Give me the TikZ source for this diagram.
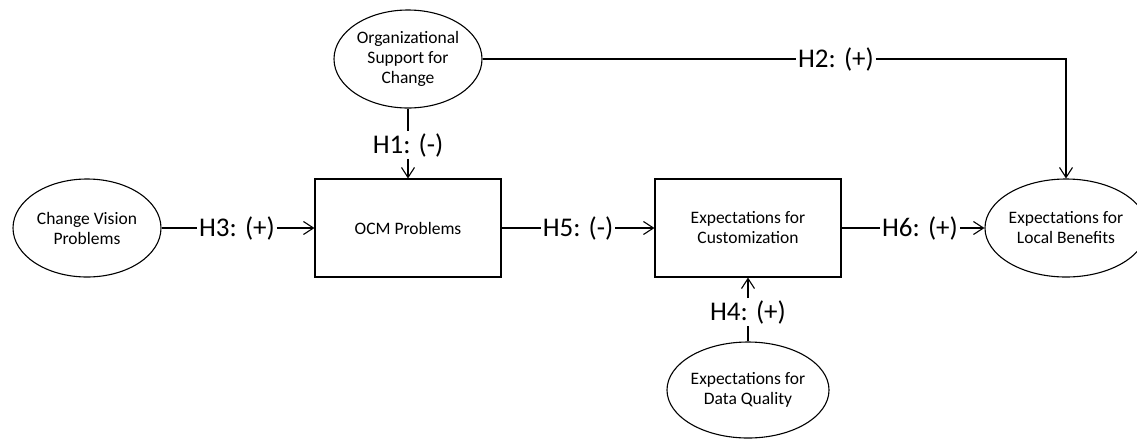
\documentclass[tikz,border=0pt]{standalone}
\usepackage{fontspec}
\setmainfont{Carlito}
\usetikzlibrary{shapes.geometric,arrows.meta}
\begin{document}
\begin{tikzpicture}[x=1pt,y=-1pt,
  line width=1.1pt,
  ell/.style={draw, ellipse, minimum width=148pt, minimum height=98pt, inner sep=0pt, align=center, font=\fontsize{17.5}{20}\selectfont},
  boxn/.style={draw, rectangle, minimum width=186pt, minimum height=98pt, inner sep=0pt, align=center, font=\fontsize{17.5}{20}\selectfont},
  lbl/.style={inner sep=1.5pt, font=\fontsize{27}{30}\selectfont},
  arr/.style={-{Straight Barb[length=10pt,width=13pt]}},
]
\useasboundingbox (0,0) rectangle (1137,440);
\node[ell] (org) at (408,59) {Organizational\\Support for\\Change};
\node[ell] (cv) at (87,228) {Change Vision\\Problems};
\node[boxn] (ocm) at (408,228) {OCM Problems};
\node[boxn] (cust) at (748,228) {Expectations for\\Customization};
\node[ell, minimum width=140pt] (lb) at (1066,228) {Expectations for\\Local Benefits};
\node[ell, minimum height=96pt] (dq) at (748,390) {Expectations for\\Data Quality};

\node[lbl] (h1) at (408,145) {H1: (-)};
\node[lbl] (h2) at (836,59) {H2: (+)};
\node[lbl] (h3) at (237,228) {H3: (+)};
\node[lbl] (h4) at (748,312) {H4: (+)};
\node[lbl] (h5) at (578,228) {H5: (-)};
\node[lbl] (h6) at (920,228) {H6: (+)};

\draw (org) -- (h1);
\draw[arr] (h1) -- (ocm);
\draw (org) -- (h2);
\draw[arr] (h2) -| (lb);
\draw (cv) -- (h3);
\draw[arr] (h3) -- (ocm);
\draw (dq) -- (h4);
\draw[arr] (h4) -- (cust);
\draw (ocm) -- (h5);
\draw[arr] (h5) -- (cust);
\draw (cust) -- (h6);
\draw[arr] (h6) -- (lb);
\end{tikzpicture}
\end{document}
